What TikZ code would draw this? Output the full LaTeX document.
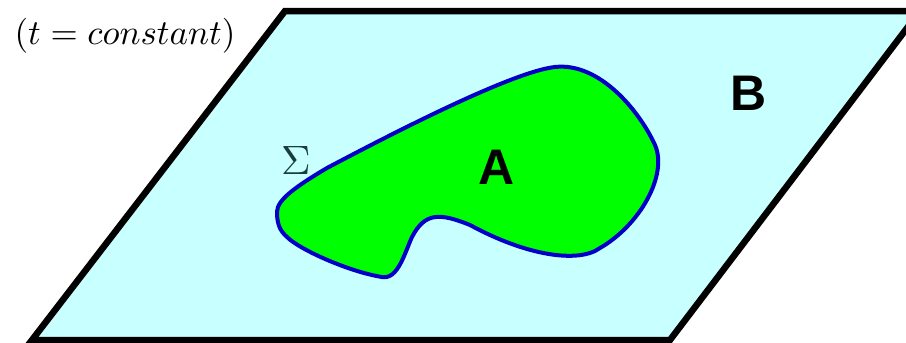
\documentclass[tikz,border=0pt]{standalone}
\usepackage{fontspec}
\usepackage{graphicx}
\newfontfamily\labelfont{Liberation Sans}
\definecolor{planecol}{RGB}{200,255,255}
\definecolor{blobcol}{RGB}{0,255,0}
\definecolor{edgecol}{RGB}{0,0,200}
\definecolor{sigcol}{RGB}{25,60,60}
\begin{document}
\begin{tikzpicture}[x=1pt,y=-1pt,
  plane/.style={fill=planecol,draw=black,line width=6.5pt,line join=miter},
  region/.style={fill=blobcol,draw=edgecol,line width=4pt},
  biglabel/.style={font=\labelfont\bfseries\fontsize{50}{60}\selectfont,inner sep=0pt}]
\useasboundingbox (0,0) rectangle (906,343);
\begin{scope}
\clip (0,0) rectangle (906,343);
\draw[plane] (32,340) -- (670,340) -- (920,11) -- (285,11) -- cycle;
\end{scope}
\draw[region] (277,212) .. controls (277,200) and (295,187) .. (327,168)
  .. controls (380,140) and (510,72) .. (555,67)
  .. controls (600,62) and (640,112) .. (655,145)
  .. controls (668,175) and (640,225) .. (600,248)
  .. controls (578,264) and (525,255) .. (470,225)
  .. controls (440,213) and (425,212) .. (412,237)
  .. controls (405,252) and (398,280) .. (382,277)
  .. controls (350,272) and (300,250) .. (287,237)
  .. controls (280,231) and (277,224) .. (277,212) -- cycle;
\node[inner sep=0pt] (tc) at (125,36) {\scalebox{3.5}{$(t = constant)$}};
\node[inner sep=0pt,text=sigcol] (sig) at (296,160) {\scalebox{4.1}{$\Sigma$}};
\node[biglabel] (A) at (497,167) {A};
\node[biglabel] (B) at (749,93) {B};
\end{tikzpicture}
\end{document}
